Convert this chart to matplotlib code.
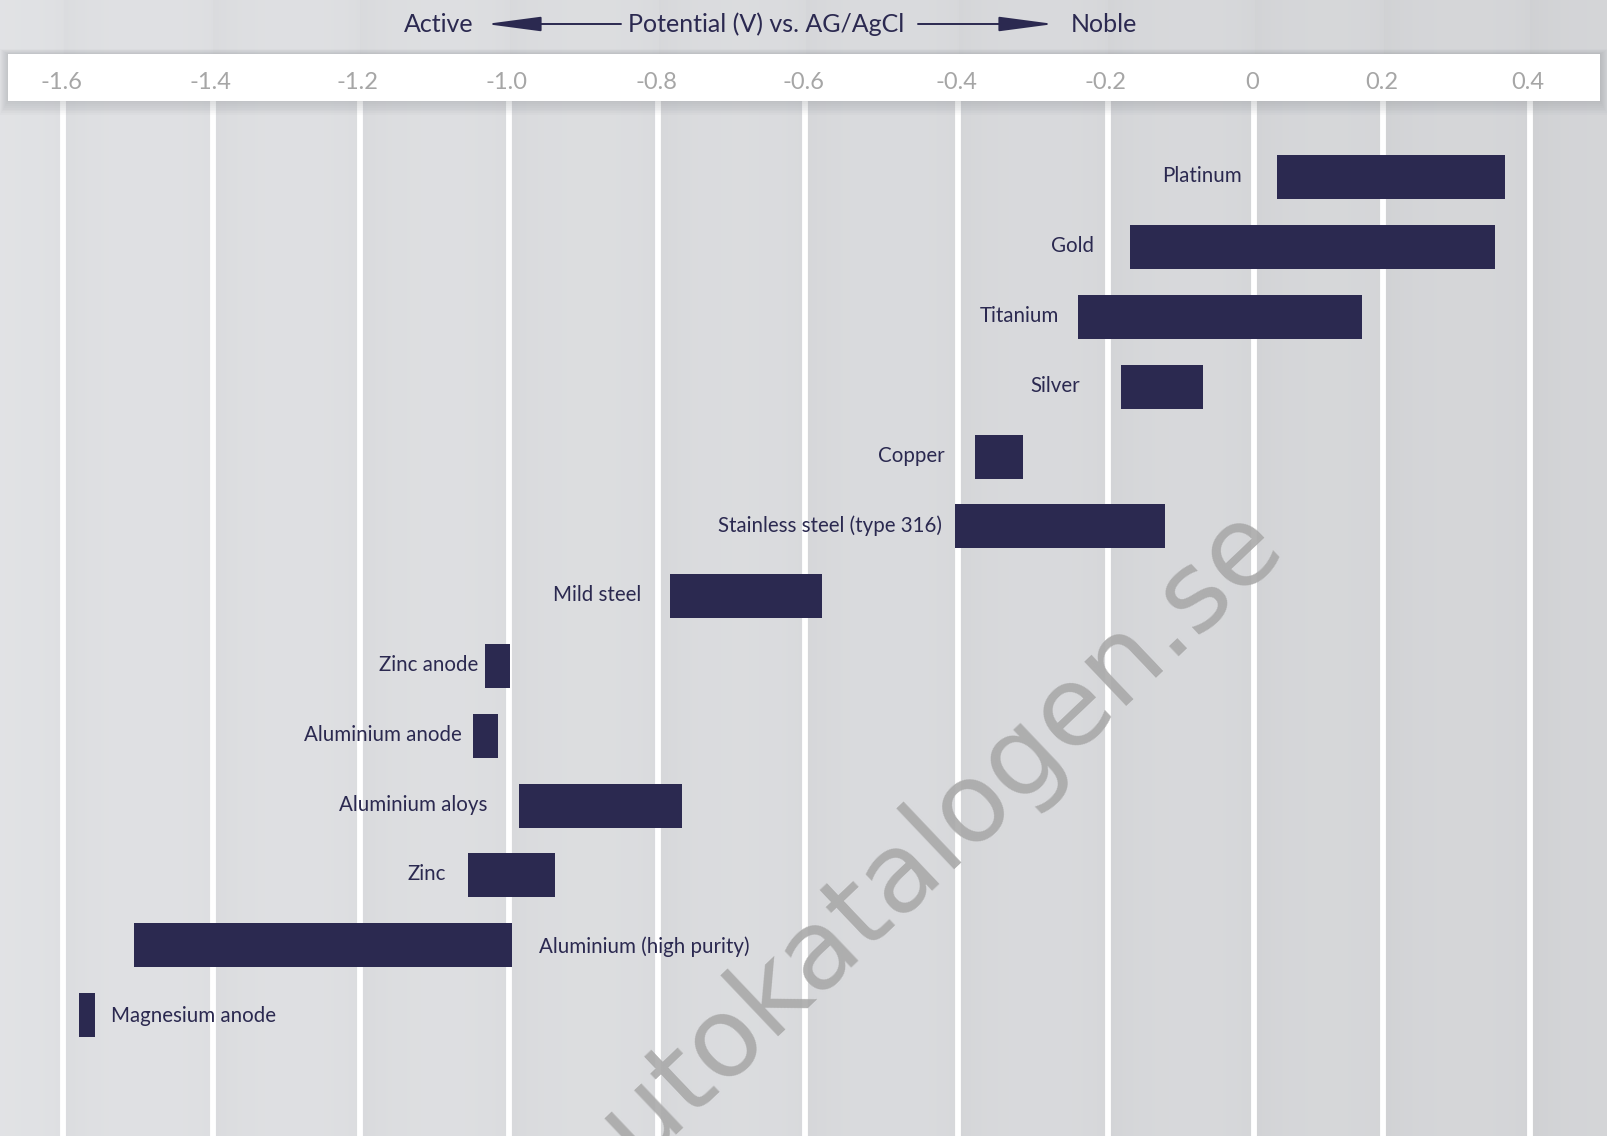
import numpy as np
import matplotlib.pyplot as plt
from matplotlib.patches import Rectangle, FancyArrowPatch

W, H = 1608, 1136

metals = ['Platinum', 'Gold', 'Titanium', 'Silver', 'Copper',
          'Stainless steel (type 316)', 'Mild steel', 'Zinc anode',
          'Aluminium anode', 'Aluminium aloys', 'Zinc',
          'Aluminium (high purity)', 'Magnesium anode']
v_low = [0.035, -0.170, -0.240, -0.182, -0.377, -0.404, -0.784,
         -1.032, -1.048, -0.987, -1.055, -1.505, -1.579]
v_high = [0.366, 0.353, 0.167, -0.069, -0.313, -0.121, -0.578,
          -0.999, -1.015, -0.767, -0.938, -0.996, -1.558]

tick_vals = [-1.6, -1.4, -1.2, -1.0, -0.8, -0.6, -0.4, -0.2, 0.0, 0.2, 0.4]
tick_text = ['-1.6', '-1.4', '-1.2', '-1.0', '-0.8', '-0.6', '-0.4',
             '-0.2', '0', '0.2', '0.4']

# label placement: side of bar and gap in px
label_side = ['l'] * 11 + ['r', 'r']
label_gap = [35, 36, 19, 41, 31, 13, 29, 7, 11, 31, 22, 27, 16]

# the original axis is not evenly spaced, map values to pixel columns
grid_px = [63.5, 212.8, 359.8, 509, 658, 805.5, 958, 1107.6, 1254, 1383.3, 1529.8]
sv = np.array([-2.2] + tick_vals + [0.8])
sp = np.array([grid_px[0] - 3 * 149.3] + grid_px + [grid_px[-1] + 2 * 146.5])


def fwd(x):
    return np.interp(x, sv, sp)


def inv(p):
    return np.interp(p, sp, sv)


navy = '#2b2950'
plt.rcParams['font.family'] = ['Lato', 'DejaVu Sans']

fig = plt.figure(figsize=(W / 100, H / 100), dpi=100)

# background with soft column shading
bg = fig.add_axes([0, 0, 1, 1], zorder=0)
xs = np.arange(W)
shade = 0.888 - 0.05 * xs / W
for g in grid_px:
    d = xs - g
    shade -= np.where(d > 0, 0.022 * np.exp(-d / 30.0), 0.012 * np.exp(d / 18.0))
img = np.stack([shade * 0.995, shade * 1.0, shade * 1.012], axis=-1)[None, :, :]
img = np.clip(img, 0, 1)
bg.imshow(img, aspect='auto', extent=[0, W, H, 0])
bg.axis('off')

ax = fig.add_axes([0, 0, 1, 1], zorder=1)
ax.patch.set_alpha(0)
ax.set_xscale('function', functions=(fwd, inv))
ax.set_xlim(inv(0), inv(W))
ypos = np.arange(len(metals))
ax.set_ylim(13.733, -2.541)
for s in ax.spines.values():
    s.set_visible(False)
ax.set_xticks([])
ax.set_yticks([])

ax.vlines(tick_vals, 0, 1 - 100 / H, transform=ax.get_xaxis_transform(),
          color='white', lw=4.2, zorder=1)

widths = np.array(v_high) - np.array(v_low)
ax.barh(ypos, widths, left=v_low, height=0.63, color=navy, zorder=3)

for i, name in enumerate(metals):
    if label_side[i] == 'l':
        ax.annotate(name, xy=(v_low[i], ypos[i]), xytext=(-label_gap[i], 1),
                    textcoords='offset pixels', ha='right', va='center',
                    fontsize=14.8, color=navy, zorder=4)
    else:
        ax.annotate(name, xy=(v_high[i], ypos[i]), xytext=(label_gap[i], -1),
                    textcoords='offset pixels', ha='left', va='center',
                    fontsize=14.8, color=navy, zorder=4)

# white header band with a soft shadow
for k in range(8, 0, -1):
    fig.patches.append(Rectangle((8 / W - k / W, 1 - (100.5 + 1.8 * k) / H),
                                 (1592 + 2 * k) / W, (46.5 + 2.4 * k) / H,
                                 transform=fig.transFigure, facecolor='#70747a',
                                 alpha=0.03, edgecolor='none', zorder=4))
fig.patches.append(Rectangle((8 / W, 1 - 100.5 / H), 1592 / W, 46.5 / H,
                             transform=fig.transFigure, facecolor='white',
                             edgecolor='none', zorder=5))

for v, t in zip(tick_vals, tick_text):
    fig.text(fwd(v) / W - 2 / W, 1 - 82.5 / H, t, ha='center', va='center',
             fontsize=17, color='#a6a6a6', zorder=7)

# title with arrows
ty = 1 - 24 / H
fig.text(474 / W, ty, 'Active', ha='right', va='center', fontsize=18,
         color=navy, zorder=7)
fig.text(628 / W, ty, 'Potential (V) vs. AG/AgCl', ha='left', va='center',
         fontsize=18, color=navy, zorder=7)
fig.text(1071 / W, ty, 'Noble', ha='left', va='center', fontsize=18,
         color=navy, zorder=7)
for a, b in [((621, 24), (486, 24)), ((918, 24), (1054, 24))]:
    fig.patches.append(FancyArrowPatch((a[0] / W, 1 - a[1] / H), (b[0] / W, 1 - b[1] / H),
                                       transform=fig.transFigure,
                                       arrowstyle='-|>,head_length=3.4,head_width=0.45',
                                       mutation_scale=10, color=navy, lw=1.4,
                                       shrinkA=0, shrinkB=0, zorder=7))

# watermark
ax.text(1286 / W, 1 - 548 / H, 'autokatalogen.se', transform=fig.transFigure,
        rotation=43.5, rotation_mode='anchor', ha='right', va='baseline',
        fontsize=80, family='DejaVu Sans', color='#a9a9a9', alpha=0.9, zorder=8)

fig.savefig('out.png', dpi=100)
